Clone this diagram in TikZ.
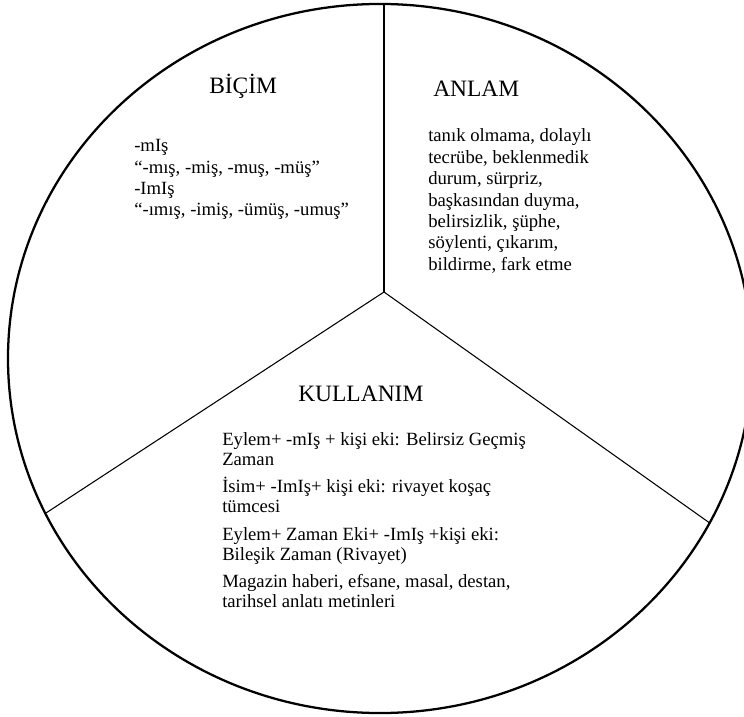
\documentclass[tikz,border=0pt]{standalone}
\usepackage{fontspec}
\setmainfont{Liberation Serif}
\newcommand{\txtlines}[2]{{\fontsize{14pt}{#1}\selectfont\begin{tabular}[t]{@{}l@{}}#2\end{tabular}}}
\begin{document}
\begin{tikzpicture}[x=0.75pt,y=-0.75pt,
  titletext/.style={font=\fontsize{17.6pt}{20pt}\selectfont, anchor=base west, inner sep=0pt},
  bodytext/.style={anchor=base west, inner sep=0pt},
  rim/.style={line width=1.7pt},
  divider/.style={line width=0.8pt}]
\useasboundingbox (0,0) rectangle (744,717);
\clip (0,0) rectangle (744,717);
\draw[rim] (380,358.5) ellipse [x radius=279pt, y radius=265.9pt];
\coordinate (o) at (384,292);
\coordinate (top) at (384,4);
\coordinate (lft) at (46,513);
\coordinate (rgt) at (709,522.5);
\draw[divider] (o) -- (top);
\draw[divider] (o) -- (lft);
\draw[divider] (o) -- (rgt);

\node[titletext] (bicim) at (209,94) {BİÇİM};
\node[bodytext] (bicimbody) at (134,152) {\txtlines{15.9pt}{-mIş\\“-mış, -miş, -muş, -müş”\\-ImIş\\“-ımış, -imiş, -ümüş, -umuş”}};

\node[titletext] (anlam) at (433,97) {ANLAM};
\node[bodytext] (anlambody) at (428,142) {\txtlines{16.05pt}{tanık olmama, dolaylı\\tecrübe, beklenmedik\\durum, sürpriz,\\başkasından duyma,\\belirsizlik, şüphe,\\söylenti, çıkarım,\\bildirme, fark etme}};

\node[titletext] (kullanim) at (298,401) {KULLANIM};
\node[bodytext] (k1) at (222,445) {\txtlines{15pt}{Eylem+ -mIş + kişi eki: Belirsiz Geçmiş\\Zaman}};
\node[bodytext] (k2) at (222,492) {\txtlines{15pt}{İsim+ -ImIş+ kişi eki: rivayet koşaç\\tümcesi}};
\node[bodytext] (k3) at (222,540) {\txtlines{15pt}{Eylem+ Zaman Eki+ -ImIş +kişi eki:\\Bileşik Zaman (Rivayet)}};
\node[bodytext] (k4) at (222,587) {\txtlines{15pt}{Magazin haberi, efsane, masal, destan,\\tarihsel anlatı metinleri}};
\end{tikzpicture}
\end{document}
